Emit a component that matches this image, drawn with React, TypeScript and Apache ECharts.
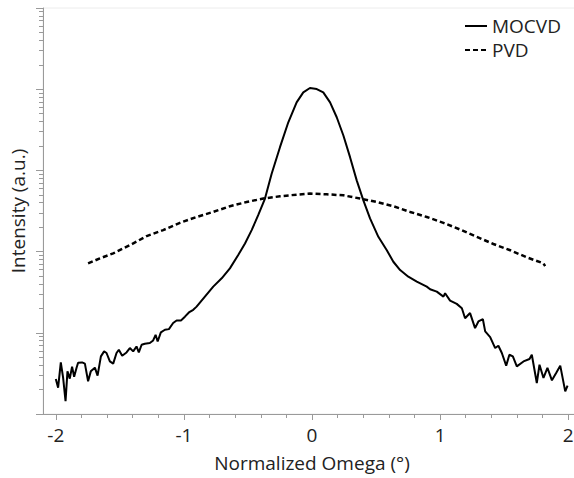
import React, { useEffect, useRef } from "react";
import * as echarts from "echarts";

const mocvdX = [
  -2.000, -1.982, -1.961, -1.943, -1.924, -1.909, -1.891, -1.873, -1.857, -1.838,
  -1.826, -1.795, -1.773, -1.748, -1.727, -1.695, -1.674, -1.648, -1.623, -1.604,
  -1.578, -1.552, -1.526, -1.508, -1.482, -1.448, -1.422, -1.396, -1.370, -1.352,
  -1.330, -1.305, -1.266, -1.240, -1.221, -1.205, -1.180, -1.148, -1.117, -1.084,
  -1.057, -1.023, -0.992, -0.961, -0.927, -0.901, -0.836, -0.771, -0.705, -0.641,
  -0.576, -0.523, -0.471, -0.420, -0.367, -0.315, -0.250, -0.185, -0.120, -0.068,
  -0.016, 0.037, 0.088, 0.141, 0.193, 0.245, 0.297, 0.349, 0.401, 0.453,
  0.518, 0.584, 0.635, 0.688, 0.752, 0.818, 0.896, 0.922, 0.974, 1.026,
  1.039, 1.078, 1.130, 1.170, 1.195, 1.234, 1.273, 1.299, 1.334, 1.352,
  1.391, 1.430, 1.455, 1.482, 1.516, 1.541, 1.568, 1.599, 1.651, 1.698,
  1.716, 1.755, 1.776, 1.807, 1.838, 1.873, 1.906, 1.938, 1.977, 1.995,
];
const mocvdY = [
  2.70, 2.11, 4.32, 2.80, 1.44, 3.35, 2.73, 3.83, 2.88, 3.72,
  4.28, 4.32, 4.17, 2.53, 3.35, 3.72, 2.97, 5.12, 5.90, 5.64,
  4.44, 4.17, 5.64, 6.18, 5.22, 5.73, 6.49, 5.90, 6.79, 5.73,
  7.12, 7.33, 7.48, 8.05, 9.45, 7.82, 10.1, 10.9, 11.1, 13.2,
  14.2, 14.2, 15.8, 17.8, 19.2, 21.0, 27.9, 37.0, 46.9, 62.2,
  90.6, 126, 184, 281, 450, 911, 1932, 3915, 6890, 9140,
  10350, 10050, 9140, 6890, 4510, 2690, 1456, 754, 428, 256,
  152, 104, 75.0, 59.3, 49.1, 42.6, 37.0, 34.4, 32.1, 27.9,
  30.7, 24.9, 22.7, 20.1, 15.1, 17.5, 11.4, 13.8, 14.7, 10.4,
  8.86, 6.49, 6.92, 5.64, 3.94, 5.37, 5.12, 3.86, 4.44, 4.76,
  5.37, 2.41, 4.05, 2.78, 3.69, 2.60, 3.20, 3.94, 1.90, 2.24,
];
const pvdX = [
  -1.748, -1.656, -1.552, -1.422, -1.291, -1.162, -1.031, -0.901, -0.771, -0.641,
  -0.510, -0.380, -0.250, -0.120, -0.016, 0.115, 0.245, 0.375, 0.505, 0.635,
  0.766, 0.896, 1.026, 1.156, 1.287, 1.416, 1.547, 1.677, 1.807, 1.820,
];
const pvdY = [
  71.6, 82.5, 95.1, 120, 155, 184, 226, 267, 308, 362,
  408, 450, 480, 503, 518, 508, 493, 450, 408, 362,
  308, 267, 226, 187, 152, 124, 104, 84.9, 71.6, 66.4,
];
const xMajorTicks = [-2, -1, 0, 1, 2];
const xMinorTicks = [
  -1.8, -1.6, -1.4, -1.2, -0.8, -0.6, -0.4, -0.2,
  0.2, 0.4, 0.6, 0.8, 1.2, 1.4, 1.6, 1.8,
];
const yDecades = [1, 10, 100, 1000, 10000];
const yMinorMultipliers = [2, 3, 4, 5, 6, 7, 8, 9];

const FONT = "Open Sans";
const AXIS_COLOR = "#9a9a9a";

export default function App() {
  const ref = useRef<HTMLDivElement>(null);
  useEffect(() => {
    if (!ref.current) return;
    const chart = echarts.init(ref.current, undefined, { renderer: "svg" });
    const yMinorTicks: number[] = [];
    yDecades.forEach((d) => yMinorMultipliers.forEach((m) => yMinorTicks.push(d * m)));
    const mocvd = mocvdX.map((x, i) => [x, mocvdY[i]]);
    const pvd = pvdX.map((x, i) => [x, pvdY[i]]);
    chart.setOption({
      animation: false,
      textStyle: { fontFamily: FONT },
      grid: {
        left: 43,
        right: -7,
        top: 8,
        bottom: 64,
        show: true,
        borderColor: "#ececec",
        borderWidth: 1,
        containLabel: false,
        outerBoundsMode: "none",
      },
      legend: {
        orient: "vertical",
        left: 464,
        top: 16,
        padding: 0,
        itemWidth: 22,
        itemHeight: 14,
        itemGap: 4,
        itemTextGap: 4,
        data: ["MOCVD", "PVD"],
        itemStyle: { opacity: 0 },
        textStyle: { fontSize: 19, color: "#222", fontFamily: FONT, lineHeight: 20 },
      },
      xAxis: [
        {
          type: "value",
          min: -2.1,
          max: 2.1,
          position: "bottom",
          name: "Normalized Omega (°)",
          nameLocation: "middle",
          nameGap: 39,
          nameTextStyle: { fontSize: 19, color: "#222", fontFamily: FONT },
          axisLine: { show: true, onZero: false, lineStyle: { color: AXIS_COLOR, width: 1 } },
          axisTick: {
            show: true,
            length: 6,
            inside: false,
            customValues: xMajorTicks,
            lineStyle: { color: AXIS_COLOR },
          },
          axisLabel: {
            customValues: xMajorTicks,
            fontSize: 19,
            color: "#222",
            margin: 11,
            fontFamily: FONT,
          },
          splitLine: { show: false },
        },
        {
          type: "value",
          min: -2.1,
          max: 2.1,
          position: "bottom",
          axisLine: { show: false, onZero: false },
          axisTick: {
            show: true,
            length: 4,
            inside: false,
            customValues: xMinorTicks,
            lineStyle: { color: AXIS_COLOR },
          },
          axisLabel: { show: false },
          splitLine: { show: false },
        },
      ],
      yAxis: [
        {
          type: "log",
          logBase: 10,
          min: 1,
          max: 100000,
          position: "left",
          name: "Intensity (a.u.)",
          nameLocation: "middle",
          nameGap: 16,
          nameTextStyle: { fontSize: 19, color: "#222", fontFamily: FONT },
          axisLine: { show: true, onZero: false, lineStyle: { color: AXIS_COLOR, width: 1 } },
          axisTick: { show: true, length: 7, inside: false, lineStyle: { color: AXIS_COLOR } },
          axisLabel: { show: false },
          splitLine: { show: false },
        },
        {
          type: "log",
          logBase: 10,
          min: 1,
          max: 100000,
          position: "left",
          axisLine: { show: false, onZero: false },
          axisTick: {
            show: true,
            length: 4,
            inside: false,
            customValues: yMinorTicks,
            lineStyle: { color: AXIS_COLOR },
          },
          axisLabel: { show: false },
          splitLine: { show: false },
        },
      ],
      series: [
        {
          name: "MOCVD",
          type: "line",
          xAxisIndex: 0,
          yAxisIndex: 0,
          data: mocvd,
          symbol: "none",
          showSymbol: false,
          color: "#000",
          lineStyle: { color: "#000", width: 2 },
        },
        {
          name: "PVD",
          type: "line",
          xAxisIndex: 0,
          yAxisIndex: 0,
          data: pvd,
          symbol: "none",
          showSymbol: false,
          color: "#000",
          lineStyle: { color: "#000", width: 2.5, type: [5, 3] },
        },
      ],
    });
    return () => chart.dispose();
  }, []);
  return (
    <div
      ref={ref}
      style={{ position: "fixed", left: 0, top: 0, width: 574, height: 478, background: "#fff" }}
    />
  );
}
